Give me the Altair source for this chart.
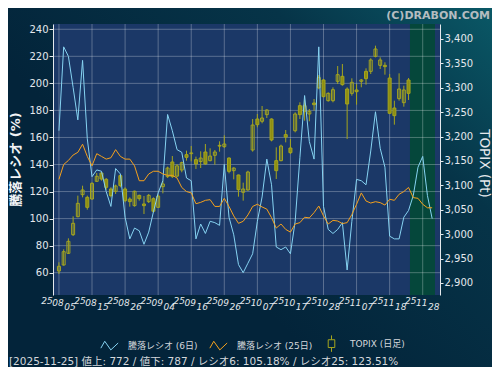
import altair as alt
import pandas as pd

# ---------------- data ----------------
opens = [2924.6, 2936.9, 2960.8, 2999.0, 3035.9, 3081.0, 3075.5, 3072.1, 3108.3, 3125.4,
         3112.4, 3092.6, 3087.8, 3120.0, 3092.6, 3072.0, 3058.5, 3079.6, 3061.9, 3066.7,
         3072.8, 3055.0, 3097.4, 3117.9, 3148.0, 3119.0, 3131.5, 3163.0, 3165.0, 3152.7,
         3149.0, 3168.4, 3150.7, 3161.6, 3180.5, 3179.4, 3156.0, 3130.2, 3121.3, 3085.8,
         3090.6, 3172.5, 3236.0, 3231.3, 3245.0, 3236.0, 3150.7, 3150.7, 3204.0, 3176.6,
         3212.0, 3263.4, 3251.8, 3246.3, 3268.8, 3300.0, 3316.0, 3273.6, 3273.6, 3313.2,
         3323.5, 3297.5, 3288.6, 3295.5, 3313.2, 3333.7, 3333.7, 3364.4, 3346.0, 3346.0,
         3320.0, 3258.6, 3277.7, 3269.5, 3316.0]
highs = [2942.4, 2969.0, 2991.5, 3036.6, 3079.0, 3099.4, 3079.0, 3106.3, 3125.4, 3126.8,
         3115.2, 3096.0, 3101.5, 3123.4, 3096.0, 3075.5, 3089.2, 3081.0, 3078.3, 3082.4,
         3075.5, 3081.0, 3109.7, 3138.4, 3160.2, 3143.8, 3148.6, 3171.2, 3180.7, 3158.9,
         3169.8, 3184.8, 3176.0, 3172.5, 3190.3, 3202.6, 3157.5, 3137.0, 3122.0, 3105.6,
         3130.0, 3236.0, 3246.3, 3262.7, 3255.9, 3237.4, 3178.0, 3183.5, 3213.5, 3195.0,
         3249.7, 3270.2, 3275.0, 3256.5, 3277.0, 3326.0, 3318.0, 3290.7, 3300.9, 3344.6,
         3348.7, 3300.9, 3319.4, 3307.8, 3318.0, 3339.9, 3360.4, 3386.3, 3362.4, 3352.2,
         3328.3, 3273.6, 3329.6, 3304.3, 3320.0]
lows = [2918.5, 2935.5, 2959.4, 2996.3, 3034.6, 3075.5, 3050.3, 3070.8, 3107.6, 3109.7,
        3091.2, 3075.5, 3082.4, 3096.0, 3065.3, 3056.4, 3056.4, 3068.7, 3041.4, 3063.9,
        3044.8, 3053.7, 3083.7, 3115.2, 3115.2, 3116.5, 3126.8, 3150.7, 3149.3, 3133.6,
        3135.6, 3142.5, 3149.3, 3142.5, 3169.1, 3176.6, 3124.7, 3112.4, 3076.9, 3068.7,
        3089.0, 3169.1, 3219.0, 3227.2, 3238.0, 3190.3, 3113.1, 3149.3, 3188.2, 3164.3,
        3208.7, 3236.0, 3232.6, 3231.3, 3253.0, 3297.0, 3280.5, 3271.6, 3270.2, 3307.8,
        3304.3, 3195.1, 3283.9, 3265.4, 3301.0, 3306.4, 3328.3, 3362.4, 3338.5, 3326.9,
        3246.3, 3224.4, 3273.6, 3261.3, 3275.0]
closes = [2934.2, 2964.2, 2985.4, 3022.3, 3063.2, 3090.6, 3055.0, 3104.2, 3118.6, 3113.0,
          3096.0, 3079.0, 3098.8, 3099.5, 3068.7, 3066.7, 3088.0, 3072.8, 3058.5, 3079.6,
          3046.9, 3078.0, 3102.9, 3135.6, 3118.0, 3140.0, 3146.6, 3157.5, 3166.5, 3143.9,
          3156.0, 3143.9, 3160.0, 3168.4, 3182.0, 3184.8, 3128.8, 3135.6, 3091.2, 3092.6,
          3127.4, 3223.7, 3224.4, 3238.1, 3254.5, 3193.0, 3130.2, 3180.7, 3199.0, 3167.0,
          3246.3, 3245.0, 3263.4, 3251.8, 3265.4, 3321.0, 3281.8, 3288.6, 3296.1, 3326.9,
          3306.4, 3266.8, 3311.2, 3292.0, 3316.0, 3318.7, 3357.0, 3379.5, 3357.0, 3343.3,
          3247.7, 3242.9, 3297.5, 3295.5, 3288.6]
ratio6 = [165, 227, 220, 197, 173, 217, 159, 131, 136, 135,
          120, 109, 137, 133, 101, 85, 93, 91, 81, 90,
          105, 119, 128, 177, 165, 151, 149, 130, 128, 85,
          96, 89, 98, 97, 95, 140, 101, 88, 66, 60,
          67, 74, 98, 116, 144, 125, 79, 77, 79, 74,
          98, 145, 191, 157, 144, 227, 109, 92, 89, 92,
          97, 62, 98, 129, 128, 125, 150, 179, 152, 138,
          87, 85, 85, 101, 106, 117, 138, 146, 117, 100]
ratio25 = [129, 140, 143, 147, 149, 155, 146, 139, 148, 146,
           144, 145, 151, 146, 144, 144, 139, 128, 128, 133,
           135, 135, 133, 132, 132, 130, 123, 120, 119, 111,
           112, 113.5, 114, 109, 109, 115, 109, 102, 96.5, 98,
           102.7, 109, 110.6, 108.6, 107, 100.7, 93, 96, 92, 90,
           96, 97, 101, 100.5, 104.4, 109.3, 102, 96, 98.7, 98.2,
           96.3, 97, 103, 110.6, 119, 113, 111.5, 112.5, 111.8, 110,
           114.3, 113.5, 118, 120, 123, 115.5, 115, 110.6, 108, 108]
tick_idx = [0, 7, 14, 21, 28, 35, 42, 49, 56, 63, 70, 77]
tick_year = ["25"] * 12
tick_month = ["08", "08", "08", "09", "09", "09", "10", "10", "10", "11", "11", "11"]
tick_day = ["05", "15", "26", "04", "16", "26", "07", "17", "28", "07", "18", "28"]
left_ticks = [60, 80, 100, 120, 140, 160, 180, 200, 220, 240]
right_ticks = [2900, 2950, 3000, 3050, 3100, 3150, 3200, 3250, 3300, 3350, 3400]
future_start = 74.3
series_names = ["騰落レシオ (6日)", "騰落レシオ (25日)", "TOPIX (日足)"]
footer_text = "[2025-11-25]  値上: 772 /  値下: 787 / レシオ6: 105.18% / レシオ25: 123.51%"
credit_text = "(C)DRABON.COM"

# ---------------- style ----------------
W, H = 387, 271
PAD = {"left": 45, "top": 16, "right": 52, "bottom": 72}
X_DOMAIN = [-0.2, 79.6]
BLUE = "#86d3f2"
ORANGE = "#f5a11c"
OLIVE = "#a5a51e"
OLIVE_FILL = "#8e8e12"
LIGHT = "#e4e8ec"
FONT = "DejaVu Sans, Noto Sans CJK JP"
ZIG = "M-1,0.3L-0.55,-0.5L0.15,0.5L1,-0.3"
CANDLE = "M-0.38,-0.45L0.38,-0.45L0.38,0.45L-0.38,0.45Z M0,-0.95L0,-0.45 M0,0.45L0,0.95"

xs = alt.Scale(domain=X_DOMAIN, nice=False, zero=False)
yl = alt.Scale(domain=[43.5, 243.9], nice=False, zero=False)
yr = alt.Scale(domain=[2875.4, 3430.7], nice=False, zero=False)

cdf = pd.DataFrame({"i": list(range(len(opens))), "open": opens, "high": highs,
                    "low": lows, "close": closes})
rdf = pd.DataFrame({"i": list(range(len(ratio6))), "r6": ratio6, "r25": ratio25})
tdf = pd.DataFrame({"i": tick_idx, "yy": tick_year, "mm": tick_month, "dd": tick_day})
one = pd.DataFrame({"k": [0]})

# ---------------- background group ----------------
bg = alt.Chart(one).mark_rect(
    color=alt.LinearGradient(
        gradient="linear",
        stops=[alt.GradientStop(color="#0a5866", offset=0),
               alt.GradientStop(color="#063448", offset=0.4),
               alt.GradientStop(color="#03243a", offset=1)],
        x1=1, y1=0, x2=0.3, y2=0.55)
).encode(x=alt.value(-PAD["left"]), x2=alt.value(W + PAD["right"]),
         y=alt.value(-PAD["top"]), y2=alt.value(H + PAD["bottom"]))

plot_bg = alt.Chart(one).mark_rect(color="#1b3867").encode(
    x=alt.value(0), x2=alt.value(W), y=alt.value(0), y2=alt.value(H))

green = alt.Chart(pd.DataFrame({"s": [future_start], "e": [X_DOMAIN[1]]})).mark_rect(
    color="#05473b").encode(
    x=alt.X("s:Q", scale=xs, axis=None), x2="e:Q", y=alt.value(0), y2=alt.value(H))

hgrid = alt.Chart(pd.DataFrame({"v": left_ticks})).mark_rule(
    color="#ffffff", opacity=0.28, strokeWidth=1).encode(
    y=alt.Y("v:Q", scale=yl, axis=None), x=alt.value(0), x2=alt.value(W))

x_axis = alt.Axis(values=tick_idx, labels=False, tickSize=4, tickColor=LIGHT,
                  domainColor=LIGHT, grid=False, title=None, zindex=1)

vgrid = alt.Chart(tdf).mark_rule(color="#ffffff", opacity=0.28, strokeWidth=1).encode(
    x=alt.X("i:Q", scale=xs, axis=x_axis), y=alt.value(0), y2=alt.value(H))

def tick_text(field, dx, dy):
    return alt.Chart(tdf).mark_text(
        font="DejaVu Sans", fontSize=9, fontStyle="italic", color=LIGHT,
        align="center", baseline="alphabetic", dx=dx).encode(
        x=alt.X("i:Q", scale=xs, axis=None), y=alt.value(H + dy), text=f"{field}:N")

lab_y = tick_text("yy", -12, 8.5)
lab_m = tick_text("mm", -1, 11)
lab_d = tick_text("dd", 11, 14.5)

footer = alt.Chart(one).mark_text(
    text=footer_text, font=FONT, fontSize=10.5, color="#d4d8dc", align="left",
    baseline="alphabetic").encode(x=alt.value(-44), y=alt.value(H + 70))

credit = alt.Chart(one).mark_text(
    text=credit_text, font="DejaVu Sans", fontSize=11, fontWeight="bold",
    color="#b4bcc0", align="right", baseline="alphabetic").encode(
    x=alt.value(W + 50), y=alt.value(-5))

group_bg = alt.layer(bg, plot_bg, green, hgrid, vgrid, lab_y, lab_m, lab_d, footer, credit)

# ---------------- candles (right axis) ----------------
right_axis = alt.Axis(orient="right", values=right_ticks,
                      labelExpr="format(datum.value, ',')", grid=False,
                      tickSize=3, tickColor=LIGHT, domainColor=LIGHT,
                      labelColor=LIGHT, labelFont="DejaVu Sans", labelFontSize=10,
                      labelPadding=1, labelFlush=False, labelOverlap=False,
                      title="TOPIX (Pt)", titleFont="DejaVu Sans", titleFontSize=13.5,
                      titleFontWeight="normal", titleColor=LIGHT, titleAngle=90,
                      titleX=43, titleY=139, titleAlign="center",
                      titleBaseline="middle", zindex=1)

wick = alt.Chart(cdf).mark_rule(color=OLIVE, strokeWidth=1).encode(
    x=alt.X("i:Q", scale=xs, axis=None),
    y=alt.Y("low:Q", scale=yr, axis=right_axis), y2="high:Q")

body = alt.Chart(cdf).mark_bar(size=3, stroke=OLIVE, strokeWidth=1).encode(
    x=alt.X("i:Q", scale=xs, axis=None),
    y=alt.Y("open:Q", scale=yr, axis=right_axis), y2="close:Q",
    fill=alt.condition("datum.close >= datum.open", alt.value("transparent"),
                       alt.value(OLIVE_FILL)))

group_candle = alt.layer(wick, body)

# ---------------- ratio lines (left axis) ----------------
left_axis = alt.Axis(orient="left", values=left_ticks, grid=False, tickSize=4,
                     tickColor=LIGHT, domainColor=LIGHT, labelColor=LIGHT,
                     labelFont="DejaVu Sans", labelFontSize=10, labelPadding=1,
                     labelFlush=False, labelOverlap=False,
                     title="騰落レシオ (%)", titleFont=FONT, titleFontSize=13,
                     titleFontWeight="bold", titleColor="#f2f4f6",
                     titleX=-37.5, titleY=135, titleAlign="center",
                     titleBaseline="middle", zindex=1)

line6 = alt.Chart(rdf).mark_line(color=BLUE, strokeWidth=1).encode(
    x=alt.X("i:Q", scale=xs, axis=None), y=alt.Y("r6:Q", scale=yl, axis=left_axis))
line25 = alt.Chart(rdf).mark_line(color=ORANGE, strokeWidth=1).encode(
    x=alt.X("i:Q", scale=xs, axis=None), y=alt.Y("r25:Q", scale=yl, axis=left_axis))

leg = dict(title=None, orient="none", legendX=47, legendY=310, direction="horizontal",
           symbolSize=300, symbolStrokeWidth=1, symbolOpacity=1, labelColor="#d4d8dc",
           labelFont=FONT, labelFontSize=9, labelOffset=9, columnPadding=9, padding=0)
legend_pts = alt.Chart(pd.DataFrame({"s": series_names})).mark_point(
    opacity=0, filled=False).encode(
    x=alt.value(0), y=alt.value(0),
    color=alt.Color("s:N", scale=alt.Scale(domain=series_names, range=[BLUE, ORANGE, OLIVE]),
                    legend=alt.Legend(**leg)),
    shape=alt.Shape("s:N", scale=alt.Scale(domain=series_names, range=[ZIG, ZIG, CANDLE]),
                    legend=alt.Legend(**leg)))

group_lines = alt.layer(line6, line25, legend_pts)

chart = alt.layer(group_bg, group_candle, group_lines).resolve_scale(
    y="independent").properties(
    width=W, height=H, padding=PAD,
    autosize=alt.AutoSizeParams(type="none"), background="#03243a"
).configure_view(stroke=None, fill=None)

chart.save("out.html", embed_options={"renderer": "svg", "actions": False})
